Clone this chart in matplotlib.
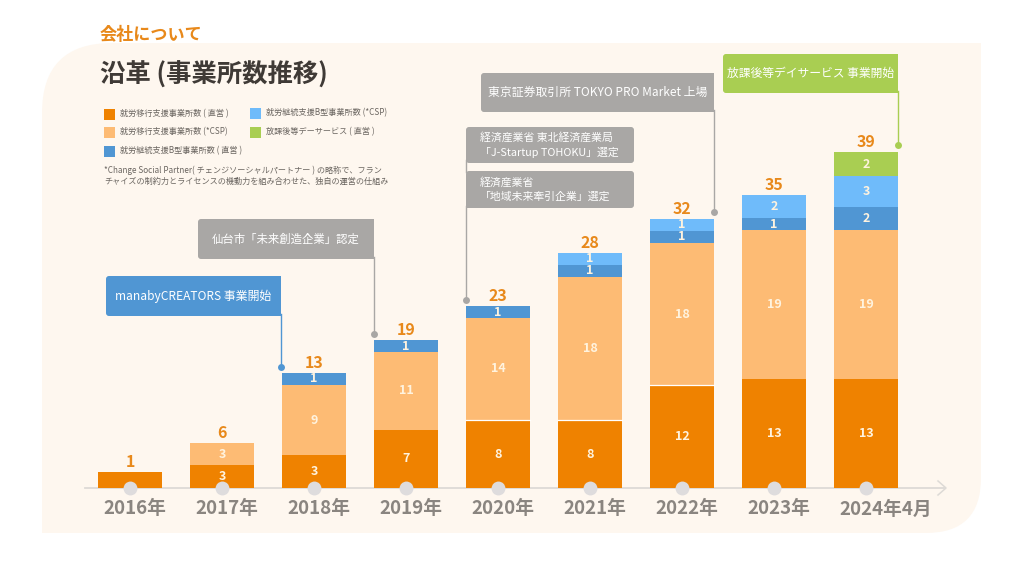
import matplotlib
matplotlib.use("Agg")
import matplotlib.pyplot as plt
from matplotlib.patches import FancyBboxPatch, PathPatch, Rectangle
from matplotlib.path import Path

plt.rcParams["font.family"] = ["Noto Sans CJK JP", "DejaVu Sans"]

years = ["2016年", "2017年", "2018年", "2019年", "2020年", "2021年", "2022年", "2023年", "2024年4月"]
totals = [1, 6, 13, 19, 23, 28, 32, 35, 39]

# counts printed on the segments (0 = no segment)
iko_direct = [1, 3, 3, 7, 8, 8, 12, 13, 13]
iko_csp = [0, 3, 9, 11, 14, 18, 18, 19, 19]
b_direct = [0, 0, 1, 1, 1, 1, 1, 1, 2]
b_csp = [0, 0, 0, 0, 0, 1, 1, 2, 3]
houkago = [0, 0, 0, 0, 0, 0, 0, 0, 2]

# the source bars are not drawn to scale, so drawn lengths are read off separately
h_iko_direct = [16, 23, 33, 58, 68, 68, 103, 109, 109]
h_iko_csp = [0, 22, 70, 78, 102, 143, 142, 149, 149]
h_b_direct = [0, 0, 12, 12, 12, 12, 12, 12, 23]
h_b_csp = [0, 0, 0, 0, 0, 12, 12, 23, 31]
h_houkago = [0, 0, 0, 0, 0, 0, 0, 0, 24]

series = [
    ("就労移行支援事業所数 ( 直営 )", iko_direct, h_iko_direct, "#EF8200"),
    ("就労移行支援事業所数 (*CSP)", iko_csp, h_iko_csp, "#FDBB74"),
    ("就労継続支援B型事業所数 ( 直営 )", b_direct, h_b_direct, "#5096D3"),
    ("就労継続支援B型事業所数 (*CSP)", b_csp, h_b_csp, "#6FBBFA"),
    ("放課後等デーサービス ( 直営 )", houkago, h_houkago, "#A9CE52"),
]

W, H = 1024, 576
BG = "#FEF7EF"
GREY = "#A9A7A5"
fig = plt.figure(figsize=(W / 100, H / 100), dpi=100, facecolor="white")

# overlay in pixel coordinates for the panel, callouts and header
deco = fig.add_axes([0, 0, 1, 1])
deco.set_xlim(0, W)
deco.set_ylim(H, 0)
deco.axis("off")


def rounded_panel(x0, y0, x1, y1, tl, br):
    # only the top-left and bottom-right corners of the panel are round
    verts = [(x0 + tl, y0), (x1, y0), (x1, y1 - br), (x1, y1), (x1 - br, y1), (x0, y1),
             (x0, y0 + tl), (x0, y0), (x0 + tl, y0), (x0 + tl, y0)]
    codes = [Path.MOVETO, Path.LINETO, Path.LINETO, Path.CURVE3, Path.CURVE3, Path.LINETO,
             Path.LINETO, Path.CURVE3, Path.CURVE3, Path.CLOSEPOLY]
    return PathPatch(Path(verts, codes), fc=BG, ec="none", zorder=0)


deco.add_patch(rounded_panel(42, 43, 981, 533, 70, 55))

deco.text(100, 35, "会社について", fontsize=12.3, color="#E8891B", weight="bold", ha="left", va="center")
deco.text(100, 75, "沿革 (事業所数推移)", fontsize=18.3, color="#3F3A36", weight="bold", ha="left", va="center")

legend_pos = [(104, 114), (104, 132), (104, 151), (250, 113), (250, 132)]
for (name, _, _, color), (lx, ly) in zip(series, legend_pos):
    deco.add_patch(Rectangle((lx, ly - 5.5), 11, 11, fc=color, ec="none"))
    deco.text(lx + 16, ly, name, fontsize=5.85, color="#6A6560", ha="left", va="center")

deco.text(104, 170, "*Change Social Partner( チェンジソーシャルパートナー ) の略称で、フラン",
          fontsize=5.85, color="#6A6560", ha="left", va="center")
deco.text(104, 181, "チャイズの制約力とライセンスの機動力を組み合わせた、独自の運営の仕組み",
          fontsize=5.85, color="#6A6560", ha="left", va="center")


def callout(x0, y0, x1, y1, lines, color, stem_x=None, stem_end=None, tx=None, size=8.5):
    deco.add_patch(FancyBboxPatch((x0 + 2, y0 + 2), x1 - x0 - 4, y1 - y0 - 4,
                                  boxstyle="round,pad=2,rounding_size=3", fc=color, ec="none", zorder=3))
    if stem_x == x1:
        # the stem continues the right edge, so those corners stay square
        deco.add_patch(Rectangle((x1 - 6, y0), 6, y1 - y0, fc=color, ec="none", zorder=3))
    elif stem_x == x0:
        deco.add_patch(Rectangle((x0, y1 - 6), 6, 6, fc=color, ec="none", zorder=3))
    if tx is None:
        tx = (x0 + x1) / 2
        ha = "center"
    else:
        ha = "left"
    n = len(lines)
    for i, line in enumerate(lines):
        yc = (y0 + y1) / 2 + (i - (n - 1) / 2) * 15
        deco.text(tx, yc, line, fontsize=size, color="white", ha=ha, va="center", zorder=4)
    if stem_x is not None:
        deco.plot([stem_x, stem_x], [y1 - 2, stem_end], color=color, lw=1.0, zorder=2)
        deco.plot([stem_x], [stem_end], "o", color=color, ms=5, mec="none", zorder=2)


callout(106, 276, 281, 316, ["manabyCREATORS 事業開始"], "#5096D3", 281, 367, size=8.6)
callout(198, 219, 374, 259, ["仙台市「未来創造企業」認定"], GREY, 374, 334, size=8.2)
callout(466, 127, 634, 163, ["経済産業省 東北経済産業局", "「J-Startup TOHOKU」選定"], GREY, tx=480, size=7.8)
callout(466, 171, 634, 208, ["経済産業省", "「地域未来牽引企業」選定"], GREY, 466, 300, tx=480, size=7.8)
deco.plot([466, 466], [160, 172], color=GREY, lw=1.0, zorder=2)
callout(481, 73, 714, 112, ["東京証券取引所 TOKYO PRO Market 上場"], GREY, 714, 212, size=8.55)
callout(723, 54, 898, 93, ["放課後等デイサービス 事業開始"], "#A9CE52", 898, 145)

# chart axes: x = category index, y = pixels above the baseline
ax = fig.add_axes([84 / W, (H - 488) / H, (946 - 84) / W, 400 / H])
ax.patch.set_alpha(0)
ax.set_xlim((84 - 130) / 92, (946 - 130) / 92)
ax.set_ylim(0, 400)
ax.axis("off")

xs = list(range(len(years)))
bottoms = [0] * len(years)
for name, counts, heights, color in series:
    ax.bar(xs, heights, bottom=bottoms, width=0.69, color=color, zorder=3)
    for x, c, h, b in zip(xs, counts, heights, bottoms):
        if c and x > 0:
            ax.text(x, b + h / 2, str(c), fontsize=9, color="#FFF3DF", weight="bold",
                    ha="center", va="center", zorder=5)
    bottoms = [b + h for b, h in zip(bottoms, heights)]

# thin white seam on the 2020-2022 bars
for x in (4, 5, 6):
    ax.plot([x - 0.345, x + 0.345], [h_iko_direct[x]] * 2, color="white", lw=0.9, zorder=4)

for x, total, top in zip(xs, totals, bottoms):
    ax.text(x, top + 10, str(total), fontsize=11.5, color="#E8891B", weight="bold",
            ha="center", va="center", zorder=5)
    ax.text(x - 0.288, -21, years[x], fontsize=13.5, color="#8A8580", weight="bold",
            ha="left", va="center", clip_on=False)

# baseline arrow and year dots
ax.plot([(85 - 130) / 92, (944 - 130) / 92], [0, 0], color="#DDDAD6", lw=1.3, zorder=2, clip_on=False)
ax.plot([(938 - 130) / 92, (946 - 130) / 92, (938 - 130) / 92], [7, 0, -7], color="#DDDAD6", lw=1.1,
        zorder=2, clip_on=False)
ax.plot(xs, [0] * len(xs), "o", color="#DEDCDD", ms=10, mec="none", zorder=4, clip_on=False)

fig.savefig("out.png", dpi=100)
